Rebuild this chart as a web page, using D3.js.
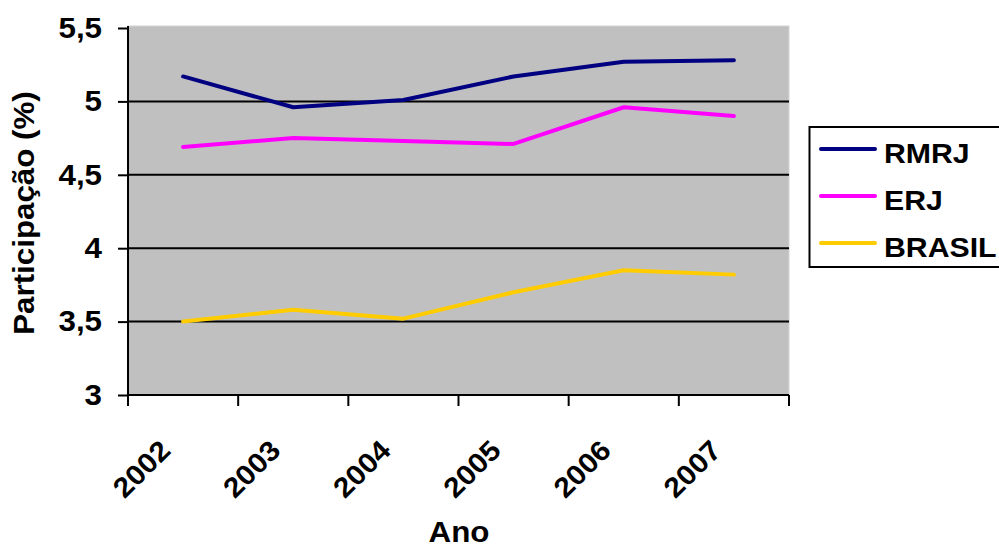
<!DOCTYPE html>
<html>
<head>
<meta charset="utf-8">
<script src="https://cdn.jsdelivr.net/npm/d3@7"></script>
<style>
  body { margin: 0; background: #fff; }
  svg text { font-family: "Liberation Sans", Arial, sans-serif; font-weight: bold; fill: #000; }
</style>
</head>
<body>
<svg id="chart" width="999" height="549"></svg>
<script>
const years = ["2002", "2003", "2004", "2005", "2006", "2007"];
const rmrj = [5.17, 4.96, 5.01, 5.17, 5.27, 5.28];
const erj = [4.69, 4.75, 4.73, 4.71, 4.96, 4.90];
const brasil = [3.50, 3.58, 3.52, 3.70, 3.85, 3.82];
const yTicks = [3, 3.5, 4, 4.5, 5, 5.5];
const seriesNames = ["RMRJ", "ERJ", "BRASIL"];
const seriesColors = ["#000080", "#FF00FF", "#FFCC00"];

const series = [rmrj, erj, brasil].map((v, i) => ({ name: seriesNames[i], color: seriesColors[i], values: v }));

const svg = d3.select("#chart");
const plotLeft = 128, plotRight = 789, plotTop = 28, plotBottom = 395;
const stretch = 1.08; // slightly wide lettering

const x = d3.scaleBand().domain(years).range([plotLeft, plotRight]);
const y = d3.scaleLinear().domain([3, 5.5]).range([plotBottom, plotTop]);

// plot background
svg.append("rect")
  .attr("x", plotLeft).attr("y", plotTop - 2)
  .attr("width", plotRight - plotLeft).attr("height", plotBottom - plotTop + 2)
  .attr("fill", "#C0C0C0")
  .attr("stroke", "#D4D4D4").attr("stroke-width", 1);

// horizontal gridlines
svg.append("g").selectAll("line")
  .data(yTicks.filter(t => t > 3 && t < 5.5))
  .join("line")
  .attr("x1", plotLeft).attr("x2", plotRight)
  .attr("y1", d => y(d)).attr("y2", d => y(d))
  .attr("stroke", "#000").attr("stroke-width", 2);

// y axis
const yAxis = svg.append("g")
  .attr("transform", `translate(${plotLeft},0)`)
  .call(d3.axisLeft(y).tickValues(yTicks).tickSize(10).tickPadding(16)
    .tickFormat(d => String(d).replace(".", ",")));
yAxis.selectAll("path, line").attr("stroke", "#000").attr("stroke-width", 2);
yAxis.select(".domain").attr("d", `M0,${plotBottom}V${plotTop - 2}`);
yAxis.selectAll("text")
  .style("font-size", "29px")
  .attr("x", -26 / stretch)
  .attr("dy", "0.32em")
  .attr("transform", `scale(${stretch},1)`);

// x axis: ticks at band edges
const xAxisG = svg.append("g").attr("transform", `translate(0,${plotBottom})`);
xAxisG.append("line").attr("x1", plotLeft).attr("x2", plotRight)
  .attr("stroke", "#000").attr("stroke-width", 2);
const edges = years.map(d => x(d)).concat([plotRight]);
xAxisG.selectAll("line.tick").data(edges).join("line")
  .attr("class", "tick")
  .attr("x1", d => d).attr("x2", d => d)
  .attr("y1", 0).attr("y2", 11)
  .attr("stroke", "#000").attr("stroke-width", 2);
xAxisG.selectAll("text").data(years).join("text")
  .attr("transform", d => `translate(${x(d) + x.bandwidth() / 2 - 11},${57}) rotate(-45) scale(${stretch},1)`)
  .attr("text-anchor", "end")
  .style("font-size", "28px")
  .text(d => d);

// series lines
const line = d3.line()
  .x((d, i) => x(years[i]) + x.bandwidth() / 2)
  .y(d => y(d));
svg.append("g").selectAll("path")
  .data(series)
  .join("path")
  .attr("d", d => line(d.values))
  .attr("fill", "none")
  .attr("stroke", d => d.color)
  .attr("stroke-width", 4)
  .attr("stroke-linecap", "round")
  .attr("stroke-linejoin", "round");

// axis titles
svg.append("text")
  .attr("transform", `translate(34,213) rotate(-90) scale(${stretch},1)`)
  .attr("text-anchor", "middle")
  .style("font-size", "29px")
  .text("Participação (%)");
svg.append("text")
  .attr("transform", `translate(459,542) scale(${stretch},1)`)
  .attr("text-anchor", "middle")
  .style("font-size", "29px")
  .text("Ano");

// legend
const legend = svg.append("g");
legend.append("rect")
  .attr("x", 809.5).attr("y", 127)
  .attr("width", 200).attr("height", 140)
  .attr("fill", "#fff").attr("stroke", "#000").attr("stroke-width", 2);
const items = legend.selectAll("g.item").data(series).join("g")
  .attr("class", "item")
  .attr("transform", (d, i) => `translate(0,${149 + i * 47})`);
items.append("line")
  .attr("x1", 821).attr("x2", 875)
  .attr("stroke", d => d.color).attr("stroke-width", 4)
  .attr("stroke-linecap", "round");
items.append("text")
  .attr("transform", `translate(884,14) scale(${stretch},1)`)
  .style("font-size", "28px")
  .text(d => d.name);
</script>
</body>
</html>
